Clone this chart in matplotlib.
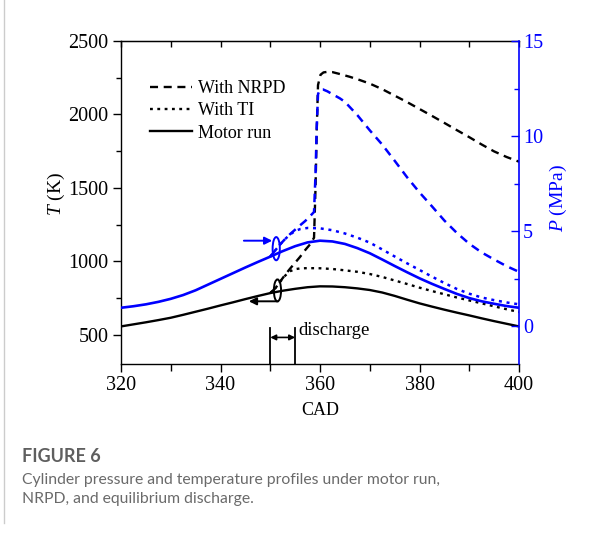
import matplotlib
matplotlib.use("Agg")
import matplotlib.pyplot as plt
from matplotlib.patches import Ellipse
from matplotlib.lines import Line2D
from matplotlib.ticker import MultipleLocator

plt.rcParams['font.family'] = ['Liberation Serif', 'DejaVu Serif']
plt.rcParams['mathtext.fontset'] = 'custom'
plt.rcParams['mathtext.rm'] = 'Liberation Serif'
plt.rcParams['mathtext.it'] = 'Liberation Serif:italic'

# ---------------- data ----------------
cad_motor = [320, 322.5, 325, 327.5, 330, 332.5, 335, 337.5, 340, 342.5, 345, 347.5, 350, 352.5, 355, 357.5,
             360, 362.5, 365, 367.5, 370, 372.5, 375, 377.5, 380, 382.5, 385, 387.5, 390, 392.5, 395, 397.5, 400]
T_motor = [556, 570, 584, 599, 615, 635, 656, 677, 699, 720, 742, 763, 783, 799, 812, 823,
           829, 828, 823, 815, 804, 787, 764, 738, 713, 691, 670, 650, 631, 611, 592, 574, 556]
P_motor = [0.96, 1.04, 1.14, 1.27, 1.43, 1.63, 1.88, 2.18, 2.48, 2.78, 3.08, 3.37, 3.65, 3.94, 4.20, 4.40,
           4.49, 4.45, 4.32, 4.10, 3.83, 3.50, 3.16, 2.83, 2.51, 2.22, 1.95, 1.69, 1.47, 1.30, 1.17, 1.05, 0.96]

cad_ti = [350, 351, 352, 353, 354, 355, 356, 357.5, 360, 362.5, 365, 367.5, 370, 372.5, 375, 377.5,
          380, 382.5, 385, 387.5, 390, 392.5, 395, 397.5, 400]
T_ti = [783, 815, 860, 902, 932, 946, 951, 953, 952, 947, 938, 928, 913, 893, 869, 845,
        820, 797, 775, 753, 733, 713, 693, 673, 654]
P_ti = [3.65, 3.98, 4.30, 4.58, 4.82, 5.00, 5.10, 5.16, 5.14, 5.04, 4.87, 4.65, 4.39, 4.03, 3.66, 3.30,
        2.95, 2.60, 2.26, 1.95, 1.70, 1.50, 1.36, 1.24, 1.14]

cad_nrpd_T = [350, 351, 352, 353, 354, 355, 356, 357, 358, 358.8, 359.1, 359.35, 359.6, 360.1, 360.7, 361.5,
              362.5, 364, 366, 368, 370, 372.5, 375, 377.5, 380, 382.5, 385, 387.5, 390, 392.5, 395, 397.5, 400]
T_nrpd = [783, 815, 862, 908, 950, 990, 1030, 1075, 1115, 1160, 1500, 1900, 2200, 2270, 2286, 2290,
          2288, 2275, 2256, 2234, 2210, 2172, 2128, 2084, 2037, 1990, 1942, 1893, 1845, 1795, 1748, 1710, 1678]

cad_nrpd_P = [350, 351, 352, 353, 354, 355, 356, 357, 358, 358.8, 359.1, 359.35, 359.6, 360, 360.6, 361.5,
              362.5, 364, 365, 367.5, 370, 372.5, 375, 377.5, 380, 382.5, 385, 387.5, 390, 392.5, 395, 397.5, 400]
P_nrpd = [3.65, 3.98, 4.30, 4.58, 4.84, 5.07, 5.30, 5.52, 5.78, 6.00, 8.0, 10.5, 12.2, 12.45, 12.45, 12.35,
          12.2, 11.98, 11.8, 11.1, 10.3, 9.55, 8.7, 7.83, 7.03, 6.3, 5.55, 4.9, 4.33, 3.87, 3.5, 3.15, 2.85]

legend_labels = ['With NRPD', 'With TI', 'Motor run']
discharge_window = [350, 355]

BLUE = '#0000ff'
DASH = (3.4, 2.4)
DOT = (1.2, 1.9)

fig = plt.figure(figsize=(6.11, 5.33), dpi=100)
ax = fig.add_axes([121 / 611, 1 - 364 / 533, 398 / 611, 323 / 533])
ax2 = ax.twinx()

# temperature (black)
l_n, = ax.plot(cad_nrpd_T, T_nrpd, color='black', lw=1.7, dashes=DASH, label=legend_labels[0])
l_t, = ax.plot(cad_ti, T_ti, color='black', lw=1.7, dashes=DOT, label=legend_labels[1])
l_m, = ax.plot(cad_motor, T_motor, color='black', lw=1.7, label=legend_labels[2])

# pressure (blue)
ax2.plot(cad_nrpd_P, P_nrpd, color=BLUE, lw=1.8, dashes=DASH)
ax2.plot(cad_ti, P_ti, color=BLUE, lw=1.8, dashes=DOT)
ax2.plot(cad_motor, P_motor, color=BLUE, lw=1.9)

ax.set_xlim(320, 400)
ax.set_ylim(300, 2500)
ax2.set_ylim(-2, 15)

ax.xaxis.set_major_locator(MultipleLocator(20))
ax.xaxis.set_minor_locator(MultipleLocator(10))
ax.yaxis.set_major_locator(MultipleLocator(500))
ax.yaxis.set_minor_locator(MultipleLocator(250))
ax2.yaxis.set_major_locator(MultipleLocator(5))
ax2.yaxis.set_minor_locator(MultipleLocator(2.5))

fs = 13
tfs = 14.5
ax.tick_params(axis='x', which='major', direction='out', length=6, width=1, labelsize=tfs, pad=3)
ax.tick_params(axis='x', which='minor', direction='out', length=5, width=1)
ax.tick_params(axis='y', which='major', direction='out', length=6, width=1, labelsize=tfs, right=False, pad=3)
ax.tick_params(axis='y', which='minor', direction='out', length=3.5, width=1, right=False)
ax2.tick_params(axis='y', which='major', direction='in', length=6, width=1, colors=BLUE, labelsize=tfs, pad=3)
ax2.tick_params(axis='y', which='minor', direction='in', length=3.5, width=1, colors=BLUE)

top = ax.secondary_xaxis('top')
top.xaxis.set_major_locator(MultipleLocator(10))
top.tick_params(direction='in', length=4, width=1, labeltop=False)

for s in ['left', 'bottom', 'top']:
    ax.spines[s].set_linewidth(1)
ax.spines['right'].set_visible(False)
ax2.spines['right'].set_color(BLUE)
ax2.spines['right'].set_linewidth(1.2)
for s in ['left', 'bottom', 'top']:
    ax2.spines[s].set_visible(False)

ax.set_xlabel('CAD', fontsize=fs, labelpad=5)
ax.set_ylabel(r'$\mathit{T}$ (K)', fontsize=14)
ax.yaxis.set_label_coords(-0.136, 0.525)
ax2.set_ylabel(r'$\mathit{P}$ (MPa)', fontsize=14, color=BLUE)
ax2.yaxis.set_label_coords(1.073, 0.514)

ax.legend(handles=[l_n, l_t, l_m], loc='upper left', bbox_to_anchor=(0.055, 0.902),
          frameon=False, fontsize=fs, handlelength=2.3, handletextpad=0.35, labelspacing=0.3,
          borderaxespad=0)

# ellipses and arrows marking the onset
ax2.add_patch(Ellipse((351.2, 4.07), 1.45, 1.22, fill=False, edgecolor=BLUE, lw=1.4))
ax2.annotate('', xy=(350.4, 4.49), xytext=(344.7, 4.49),
             arrowprops=dict(arrowstyle='-|>', color=BLUE, lw=1.4, mutation_scale=11, shrinkA=0, shrinkB=0))
ax.add_patch(Ellipse((351.45, 801), 1.45, 150, fill=False, edgecolor='black', lw=1.4))
ax.annotate('', xy=(345.7, 727), xytext=(351.4, 727),
            arrowprops=dict(arrowstyle='-|>', color='black', lw=1.4, mutation_scale=11, shrinkA=0, shrinkB=0))

# discharge window
for c in discharge_window:
    ax.plot([c, c], [300, 542], color='black', lw=1.3)
ax.annotate('', xy=(discharge_window[1], 481), xytext=(discharge_window[0], 481),
            arrowprops=dict(arrowstyle='<|-|>', color='black', lw=1.2, mutation_scale=8, shrinkA=0, shrinkB=0))
ax.text(355.6, 530, 'discharge', fontsize=13.5, va='center', ha='left')

# caption
fig.add_artist(Line2D([3.5 / 611, 3.5 / 611], [1, 1 - 523 / 533], color='#cccccc', lw=1,
                      transform=fig.transFigure))
fig.text(22 / 611, 1 - 456 / 533, 'FIGURE 6', family='Lato', weight='bold', color='#5f5f5f',
         fontsize=13, va='center')
fig.text(22 / 611, 1 - 480 / 533, 'Cylinder pressure and temperature profiles under motor run,',
         family='Lato', color='#6a6a6a', fontsize=11.3, va='center')
fig.text(22 / 611, 1 - 499 / 533, 'NRPD, and equilibrium discharge.',
         family='Lato', color='#6a6a6a', fontsize=11.3, va='center')

fig.savefig('out.png', dpi=100)
